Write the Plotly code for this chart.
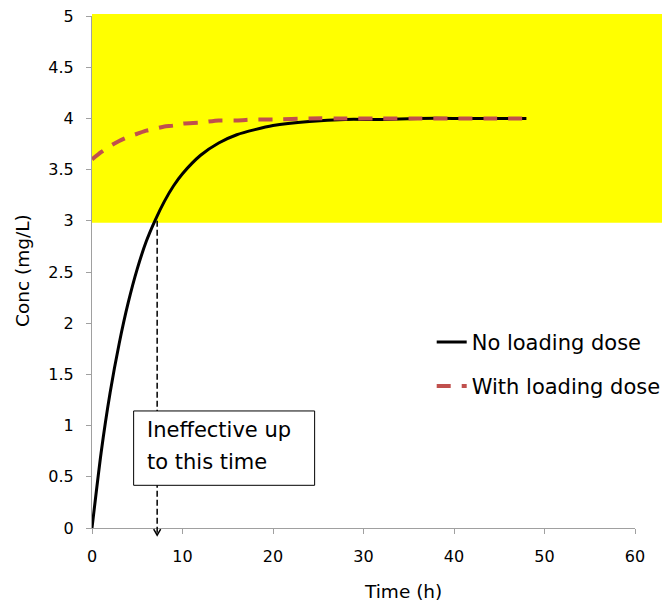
import plotly.graph_objects as go

# ---- data ----
time_h = [0, 1, 2, 3, 4, 5, 6, 7, 8, 9, 10, 12, 14, 16, 18, 20, 24, 28, 32, 36, 40, 44, 48]
no_loading = [0.00, 0.73, 1.32, 1.80, 2.20, 2.53, 2.80, 3.01, 3.19, 3.34, 3.46, 3.64, 3.76,
              3.84, 3.89, 3.93, 3.97, 3.99, 3.99, 4.00, 4.00, 4.00, 4.00]
with_loading = [3.60, 3.67, 3.73, 3.78, 3.82, 3.85, 3.88, 3.90, 3.92, 3.93, 3.95, 3.96, 3.98,
                3.98, 3.99, 3.99, 4.00, 4.00, 4.00, 4.00, 4.00, 4.00, 4.00]
series_names = ["No loading dose", "With loading dose"]

mec = 3.0            # lower edge of the effective (yellow) band, mg/L
band_top = 5.0
t_effective = 7.2    # time at which the no-loading curve reaches the band
annotation_lines = ["Ineffective up", "to this time"]
x_title = "Time (h)"
y_title = "Conc (mg/L)"

FONT = "DejaVu Sans, sans-serif"
AXIS_GRAY = "#A0A0A0"
RED = "#C0504D"

# page body has an 8px default margin; figure is sized so it fits the 670x606 window
PAGE_OFF = 8
W, H = 670 - PAGE_OFF, 606 - PAGE_OFF
# target plot area in window pixels
PL, PR, PT, PB = 92.3, 635.3, 15.7, 527.7
ml, mr = PL - PAGE_OFF, W - (PR - PAGE_OFF)
mt, mb = PT - PAGE_OFF, H - (PB - PAGE_OFF)
pw, ph = PR - PL, PB - PT

fig = go.Figure()
fig.add_trace(go.Scatter(x=time_h, y=no_loading, mode="lines", name=series_names[0],
                         line=dict(color="black", width=3, shape="spline", smoothing=0.6),
                         legend="legend"))
fig.add_trace(go.Scatter(x=time_h, y=with_loading, mode="lines", name=series_names[1],
                         line=dict(color=RED, width=4, dash="14px,11px", shape="spline", smoothing=0.6),
                         legend="legend2"))

ymax = 5.0
shapes = [
    # yellow effective band (extends a little beyond the axis, as in the original)
    dict(type="rect", xref="paper", yref="paper", x0=0, x1=(664 - PL) / pw,
         y0=(mec - 0.02) / ymax, y1=(band_top + 0.02) / ymax,
         fillcolor="#FFFF00", line=dict(width=0), layer="below"),
    # dashed drop line
    dict(type="line", xref="x", yref="paper", x0=t_effective, x1=t_effective,
         y0=mec / ymax, y1=-0.07 / ymax,
         line=dict(color="black", width=1.5, dash="6px,3px"), layer="above"),
    # open arrow head
    dict(type="path", xref="x", yref="paper", xsizemode="pixel", ysizemode="pixel",
         xanchor=t_effective, yanchor=-0.07 / ymax,
         path="M-3.5,6 L0,0 L3.5,6", line=dict(color="black", width=1.5), layer="above"),
    # annotation box
    dict(type="rect", xref="x", yref="y", x0=4.6, x1=24.6, y0=0.417, y1=1.143,
         fillcolor="white", line=dict(color="black", width=1), layer="above"),
]

annotations = [
    dict(text=annotation_lines[0], xref="x", yref="y", x=5.85, y=0.955, xanchor="left",
         yanchor="middle", showarrow=False, font=dict(family=FONT, size=21, color="black")),
    dict(text=annotation_lines[1], xref="x", yref="y", x=5.85, y=0.64, xanchor="left",
         yanchor="middle", showarrow=False, font=dict(family=FONT, size=21, color="black")),
    dict(text=x_title, xref="paper", yref="paper", x=(403 - PL) / pw, y=(PB - 591) / ph,
         xanchor="center", yanchor="middle", showarrow=False,
         font=dict(family=FONT, size=18.5, color="black")),
    dict(text=y_title, xref="paper", yref="paper", x=(23 - PL) / pw, y=(PB - 270) / ph,
         xanchor="center", yanchor="middle", textangle=-90, showarrow=False,
         font=dict(family=FONT, size=18.5, color="black")),
]

legend_common = dict(xanchor="left", yanchor="middle", bgcolor="rgba(0,0,0,0)",
                     borderwidth=0, font=dict(family=FONT, size=21, color="black"),
                     itemwidth=30)

fig.update_layout(
    width=W, height=H,
    margin=dict(l=ml, r=mr, t=mt, b=mb, pad=0, autoexpand=False),
    paper_bgcolor="white", plot_bgcolor="white",
    font=dict(family=FONT, color="black"),
    showlegend=True,
    legend=dict(x=(432 - PL) / pw, y=(PB - 342) / ph, **legend_common),
    legend2=dict(x=(432 - PL) / pw, y=(PB - 386) / ph, **legend_common),
    shapes=shapes,
    annotations=annotations,
    xaxis=dict(range=[0, 60], tick0=0, dtick=10, showgrid=False, zeroline=False,
               showline=True, linecolor=AXIS_GRAY, linewidth=1,
               ticks="outside", ticklen=5, tickcolor=AXIS_GRAY, tickwidth=1,
               tickfont=dict(family=FONT, size=16, color="black"), ticklabelstandoff=9,
               ticklabeloverflow="allow"),
    yaxis=dict(range=[0, 5], tick0=0, dtick=0.5, showgrid=False, zeroline=False,
               showline=True, linecolor=AXIS_GRAY, linewidth=1,
               ticks="outside", ticklen=5, tickcolor=AXIS_GRAY, tickwidth=1,
               tickfont=dict(family=FONT, size=16, color="black"), ticklabelstandoff=9,
               ticklabeloverflow="allow"),
)

fig.write_html("out.html")
